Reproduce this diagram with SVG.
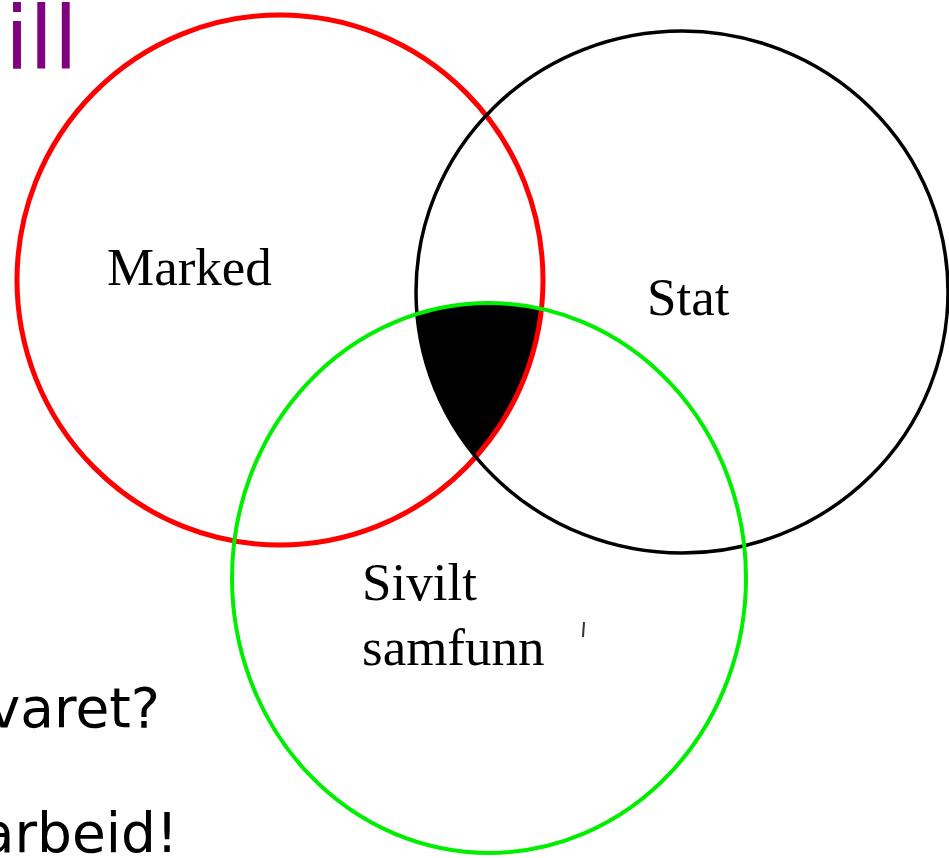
<svg xmlns="http://www.w3.org/2000/svg" width="949" height="858" viewBox="0 0 949 858">
<style>
.lbl{font-family:"Liberation Serif","Times New Roman",serif;font-size:53px;fill:#000}
.side{font-family:"DejaVu Sans",Verdana,sans-serif;font-size:55px;fill:#000}
.ttl{font-family:"DejaVu Sans",Verdana,sans-serif;font-size:88px;fill:#800080}
</style>
<defs>
<clipPath id="cR"><ellipse cx="280" cy="280" rx="263" ry="265"/></clipPath>
<clipPath id="cB"><ellipse cx="682" cy="292" rx="266" ry="261"/></clipPath>
</defs>
<rect width="949" height="858" fill="#fff"/>
<text class="ttl" x="78" y="68" text-anchor="end">ill</text>
<text class="side" x="160" y="727" text-anchor="end">varet?</text>
<text class="side" x="178" y="852" text-anchor="end">arbeid!</text>
<g id="overlap">
<g clip-path="url(#cR)"><g clip-path="url(#cB)"><ellipse cx="489" cy="578" rx="257" ry="275" fill="#000"/></g></g>
</g>
<g id="marked">
<ellipse cx="280" cy="280" rx="263" ry="265" fill="none" stroke="#ff0000" stroke-width="5"/>
<text class="lbl" x="107" y="285">Marked</text>
</g>
<g id="stat">
<ellipse cx="682" cy="292" rx="266" ry="261" fill="none" stroke="#000" stroke-width="3.5"/>
<text class="lbl" x="647" y="315">Stat</text>
</g>
<g id="sivilt">
<ellipse cx="489" cy="578" rx="257" ry="275" fill="none" stroke="#00ee00" stroke-width="4"/>
<text class="lbl" x="362" y="600">Sivilt</text>
<text class="lbl" x="362" y="665">samfunn</text>
</g>
<line x1="584" y1="622" x2="583" y2="637" stroke="#333" stroke-width="2"/>
</svg>
